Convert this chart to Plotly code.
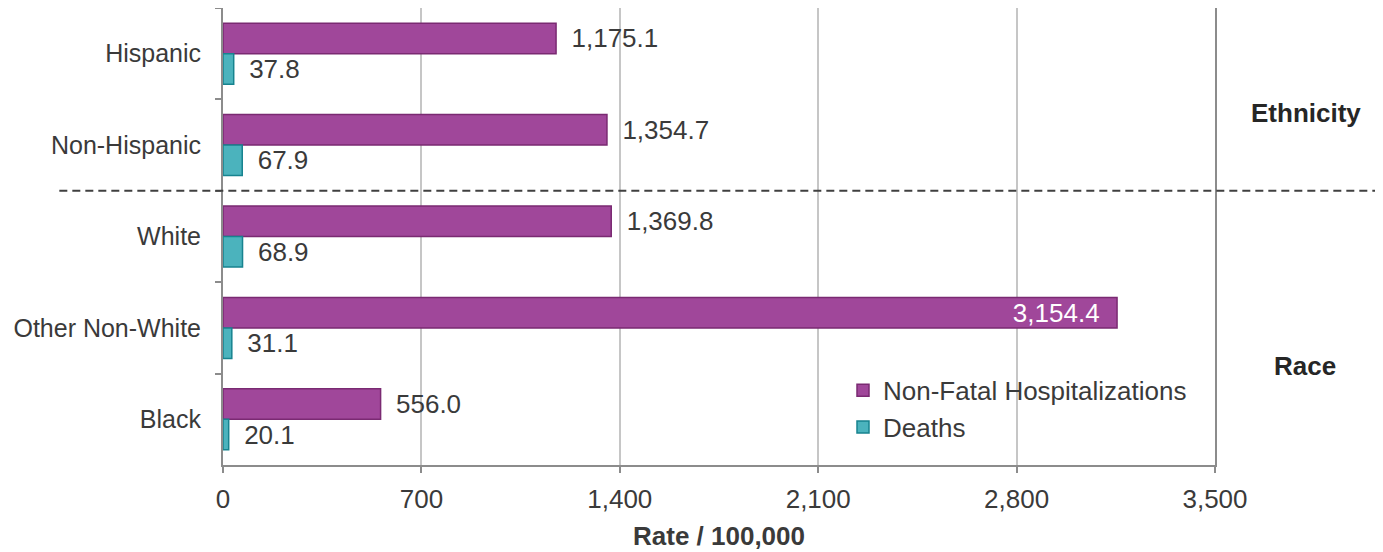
import plotly.graph_objects as go

categories = ["Hispanic", "Non-Hispanic", "White", "Other Non-White", "Black"]
hosp = [1175.1, 1354.7, 1369.8, 3154.4, 556.0]
deaths = [37.8, 67.9, 68.9, 31.1, 20.1]
hosp_pos = ["outside", "outside", "outside", "inside", "outside"]
x_ticks = [0, 700, 1400, 2100, 2800, 3500]
group_labels = ["Ethnicity", "Race"]

FONT = "Liberation Sans"
FS = 26
TXT = "#3A3A3A"
PAD = "\u00a0\u2009"

def lab(v, pos):
    s = f"{v:,.1f}"
    return s + "\u00a0\u00a0" if pos == "inside" else PAD + s

hosp_text = [lab(v, p) for v, p in zip(hosp, hosp_pos)]
hosp_colors = ["white" if p == "inside" else TXT for p in hosp_pos]
death_text = [lab(v, "outside") for v in deaths]

fig = go.Figure()
fig.add_trace(go.Bar(
    y=categories, x=hosp, orientation="h", name="Non-Fatal Hospitalizations",
    marker=dict(color="#A0479A", line=dict(color="#7A2A72", width=1.5)),
    text=hosp_text, textposition=hosp_pos, insidetextanchor="end",
    textfont=dict(family=FONT, size=FS, color=hosp_colors),
    constraintext="none", cliponaxis=False,
))
fig.add_trace(go.Bar(
    y=categories, x=deaths, orientation="h", name="Deaths",
    marker=dict(color="#4BB3BD", line=dict(color="#17838F", width=1.5)),
    text=death_text, textposition="outside",
    textfont=dict(family=FONT, size=FS, color=TXT),
    constraintext="none", cliponaxis=False,
))

# dashed separator between ethnicity and race groups
fig.add_shape(type="line", xref="paper", yref="y", x0=-0.165, x1=1.17,
              y0=1.5, y1=1.5, line=dict(color="#404040", width=2, dash="8px,5px"))

fig.add_annotation(text="<b>" + group_labels[0] + "</b>", xref="paper", yref="y",
                   x=1.092, y=0.65, showarrow=False, xanchor="center",
                   font=dict(family=FONT, size=FS, color="#262626"))
fig.add_annotation(text="<b>" + group_labels[1] + "</b>", xref="paper", yref="y",
                   x=1.091, y=3.42, showarrow=False, xanchor="center",
                   font=dict(family=FONT, size=FS, color="#262626"))

fig.update_layout(
    width=1375, height=544,
    margin=dict(l=215, r=168, t=0, b=87, autoexpand=False),
    plot_bgcolor="white", paper_bgcolor="white",
    barmode="group", bargap=0.333, bargroupgap=0,
    font=dict(family=FONT, size=FS, color=TXT),
    showlegend=True,
    legend=dict(x=0.625, y=0.215, xanchor="left", yanchor="top",
                bgcolor="rgba(0,0,0,0)", traceorder="normal",
                font=dict(family=FONT, size=FS, color=TXT),
                itemwidth=30, tracegroupgap=0),
    xaxis=dict(range=[0, 3500], tickvals=x_ticks, tickformat=",",
               showgrid=True, gridcolor="#C6C6C6", gridwidth=1.5,
               showline=True, linecolor="#8C8C8C", linewidth=2,
               ticks="outside", ticklen=6, tickcolor="#8C8C8C", tickwidth=2,
               ticklabelstandoff=4, zeroline=False, automargin=False,
               tickfont=dict(family=FONT, size=FS, color=TXT),
               title=dict(text="<b>Rate / 100,000</b>", standoff=14,
                          font=dict(family=FONT, size=FS, color=TXT))),
    yaxis=dict(autorange="reversed", showline=True, mirror=True,
               linecolor="#8C8C8C", linewidth=2, automargin=False,
               ticks="outside", tickson="boundaries", ticklen=6,
               tickcolor="#8C8C8C", tickwidth=2, ticklabelstandoff=15,
               showgrid=False, tickfont=dict(family=FONT, size=25, color=TXT)),
)

fig.write_html("out.html")
